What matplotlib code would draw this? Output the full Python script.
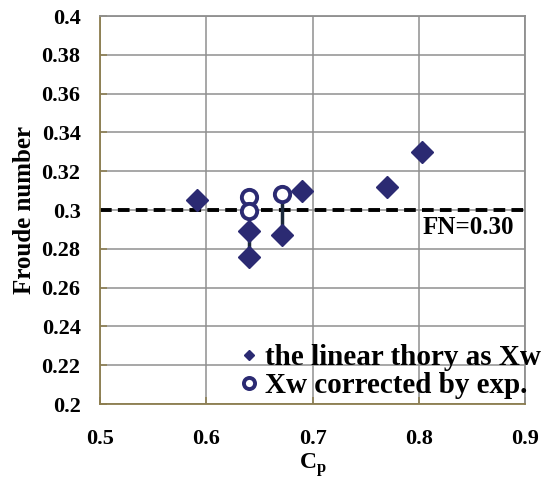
import matplotlib
matplotlib.use("Agg")
import matplotlib.pyplot as plt
from matplotlib.lines import Line2D

# data
cp_linear = [0.591, 0.640, 0.640, 0.671, 0.690, 0.770, 0.803]
fn_linear = [0.305, 0.289, 0.276, 0.287, 0.310, 0.312, 0.330]
cp_exp = [0.640, 0.640, 0.671]
fn_exp = [0.3067, 0.2995, 0.308]
# vertical connectors: (cp, fn_low, fn_high)
links = [(0.640, 0.276, 0.289), (0.671, 0.287, 0.308)]
fn_design = 0.30

x_ticks = [0.5, 0.6, 0.7, 0.8, 0.9]
y_ticks = [0.2, 0.22, 0.24, 0.26, 0.28, 0.3, 0.32, 0.34, 0.36, 0.38, 0.4]

plt.rcParams["font.family"] = ["Liberation Serif", "DejaVu Serif"]
plt.rcParams["font.weight"] = "bold"
plt.rcParams["mathtext.fontset"] = "custom"
plt.rcParams["mathtext.rm"] = "Liberation Serif:bold"
plt.rcParams["mathtext.bf"] = "Liberation Serif:bold"

navy = "#2b2a72"
olive = "#8c7d4e"
grid_gray = "#8f8f8f"

fig = plt.figure(figsize=(5.43, 4.83), dpi=100)
ax = fig.add_axes([100 / 543, 1 - 404 / 483, 425 / 543, 388 / 483])

ax.set_xlim(0.5, 0.9)
ax.set_ylim(0.2, 0.4)
ax.set_xticks(x_ticks)
ax.set_yticks(y_ticks)
ax.set_xticklabels([f"{v:g}" for v in x_ticks], fontsize=16, fontweight="bold")
ax.set_yticklabels([f"{v:g}" for v in y_ticks], fontsize=16, fontweight="bold")
ax.tick_params(axis="both", direction="in", length=5, color=olive, width=1.1)
ax.tick_params(axis="x", pad=18)
ax.tick_params(axis="y", pad=14)
ax.grid(True, color=grid_gray, linewidth=1.1)
ax.set_axisbelow(True)

ax.spines["left"].set_color(olive)
ax.spines["bottom"].set_color(olive)
ax.spines["top"].set_color(grid_gray)
ax.spines["right"].set_color(grid_gray)
for s in ax.spines.values():
    s.set_linewidth(1.3)

ax.axhline(fn_design, color="black", linestyle=(0, (3, 1.6)), linewidth=2.8, zorder=2)
ax.text(0.847, 0.2912, "FN=0.30", fontsize=18, fontweight="bold", ha="center", va="center")

for x, lo, hi in links:
    ax.plot([x, x], [lo, hi], color="#1c2a3c", linewidth=2.5, zorder=3)

ax.plot(cp_linear, fn_linear, linestyle="none", marker="D", markersize=11.5,
        color=navy, zorder=4)
ax.plot(cp_exp, fn_exp, linestyle="none", marker="o", markersize=11,
        markerfacecolor="white", markeredgecolor=navy, markeredgewidth=2.8, zorder=5)

ax.set_xlabel("C$_\\mathrm{p}$", fontsize=17, fontweight="bold", labelpad=2)
ax.set_ylabel("Froude number", fontsize=18, fontweight="bold", labelpad=4)

handles = [
    Line2D([], [], linestyle="none", marker="D", markersize=5.5, color=navy),
    Line2D([], [], linestyle="none", marker="o", markersize=8,
           markerfacecolor="white", markeredgecolor=navy, markeredgewidth=2.8),
]
ax.legend(handles, ["the linear thory as Xw", "Xw corrected by exp."],
          loc="lower right", bbox_to_anchor=(1.038, 0.012), frameon=False,
          prop={"size": 21, "weight": "bold"}, handlelength=0.5,
          handletextpad=0.3, labelspacing=0.05, borderaxespad=0,
          borderpad=0)

fig.savefig("out.png", dpi=100)
